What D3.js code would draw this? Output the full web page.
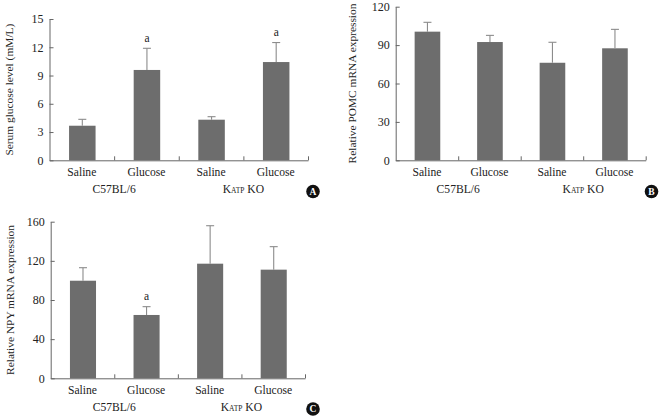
<!DOCTYPE html>
<html><head><meta charset="utf-8">
<script src="https://cdn.jsdelivr.net/npm/d3@7"></script>
<style>body{margin:0;background:#fff}svg{display:block}text{font-family:"Liberation Serif","Times New Roman",serif;fill:#222}</style>
</head><body>
<svg id="c" width="666" height="419"></svg>
<script>
const categories = ["Saline","Glucose","Saline","Glucose"];
const groups = ["C57BL/6","KATP KO"];
const glucoseMean = [3.67, 9.59, 4.31, 10.43];
const glucoseErr  = [0.68, 2.30, 0.32, 2.07];
const glucoseSig  = ["", "a", "", "a"];
const glucoseTicks = [0,3,6,9,12,15];
const pomcMean = [100.5, 92.4, 76.2, 87.5];
const pomcErr  = [7.3, 5.2, 16.0, 14.8];
const pomcSig  = ["", "", "", ""];
const pomcTicks = [0,30,60,90,120];
const npyMean = [99.7, 64.7, 117.1, 111.0];
const npyErr  = [13.3, 8.5, 38.8, 23.5];
const npySig  = ["", "a", "", ""];
const npyTicks = [0,40,80,120,160];

const panels = [
  {label:"A", title:"Serum glucose level (mM/L)", mean:glucoseMean, err:glucoseErr, sig:glucoseSig, ticks:glucoseTicks,
   x0:49.5, x1:308, yT:19, yB:160.3, titleX:13, catY:176, grpY:193, cx:313, cy:191.5},
  {label:"B", title:"Relative POMC mRNA expression", mean:pomcMean, err:pomcErr, sig:pomcSig, ticks:pomcTicks,
   x0:395.7, x1:645.7, yT:6.7, yB:160.3, titleX:355.5, catY:176, grpY:193, cx:651.5, cy:191.5},
  {label:"C", title:"Relative NPY mRNA expression", mean:npyMean, err:npyErr, sig:npySig, ticks:npyTicks,
   x0:50.7, x1:305, yT:221.7, yB:378.3, titleX:14, catY:394, grpY:411, cx:313, cy:409}
];

const svg = d3.select("#c");
const axisColor = "#666";
const barColor = "#6d6d6d";
const errColor = "#8c8c8c";

panels.forEach(p => {
  const g = svg.append("g");
  const x = d3.scaleBand().domain(d3.range(categories.length)).range([p.x0, p.x1]);
  const ymax = d3.max(p.ticks);
  const y = d3.scaleLinear().domain([0, ymax]).range([p.yB, p.yT]);
  const bw = x.bandwidth()*0.41;

  g.selectAll("rect.bar").data(p.mean).join("rect")
    .attr("x",(d,i)=>x(i)+x.bandwidth()/2-bw/2+0.5)
    .attr("y",d=>y(d)).attr("width",bw).attr("height",d=>p.yB-y(d))
    .attr("fill",barColor);
  p.mean.forEach((m,i)=>{
    const cxx = x(i)+x.bandwidth()/2+0.5;
    g.append("line").attr("x1",cxx).attr("x2",cxx).attr("y1",y(m)).attr("y2",y(m+p.err[i]))
      .attr("stroke",errColor).attr("stroke-width",1.1);
    g.append("line").attr("x1",cxx-4).attr("x2",cxx+4).attr("y1",y(m+p.err[i])).attr("y2",y(m+p.err[i]))
      .attr("stroke",errColor).attr("stroke-width",1.1);
    if (p.sig[i]) g.append("text").attr("x",cxx).attr("y",y(m+p.err[i])-6.5).attr("text-anchor","middle")
      .attr("font-size",11.5).text(p.sig[i]);
  });
  const yAxis = d3.axisLeft(y).tickValues(p.ticks).tickSize(-4).tickPadding(6).tickSizeOuter(0);
  const ya = g.append("g").attr("transform",`translate(${p.x0},0)`).call(yAxis);
  ya.select(".domain").attr("stroke",axisColor);
  ya.selectAll(".tick line").attr("stroke",axisColor);
  ya.selectAll(".tick text").attr("font-size",12).attr("font-family","Liberation Serif").attr("fill","#222");
  const xb = d3.scaleLinear().domain([0,categories.length]).range([p.x0,p.x1]);
  const xAxis = d3.axisBottom(xb).tickValues([1,2,3,4]).tickSize(-4).tickFormat("").tickSizeOuter(0);
  const xa = g.append("g").attr("transform",`translate(0,${p.yB})`).call(xAxis);
  xa.select(".domain").attr("stroke",axisColor);
  xa.selectAll(".tick line").attr("stroke",axisColor);
  g.selectAll("text.cat").data(categories).join("text").attr("class","cat")
    .attr("x",(d,i)=>x(i)+x.bandwidth()/2).attr("y",p.catY).attr("text-anchor","middle")
    .attr("font-size",11.6).text(d=>d);
  groups.forEach((gr,k)=>{
    const t = g.append("text").attr("x",x(2*k+1)).attr("y",p.grpY).attr("text-anchor","middle").attr("font-size",11.6);
    if (gr.startsWith("KATP")) {
      t.append("tspan").text("K");
      t.append("tspan").attr("font-size",7.5).text("ATP");
      t.append("tspan").text(" KO");
    } else t.text(gr);
  });
  g.append("text").attr("transform",`translate(${p.titleX},${(p.yT+p.yB)/2}) rotate(-90)`)
    .attr("text-anchor","middle").attr("font-size",11.4).text(p.title);
  g.append("circle").attr("cx",p.cx).attr("cy",p.cy).attr("r",6.8).attr("fill","#111");
  g.append("text").attr("x",p.cx).attr("y",p.cy+3.3).attr("text-anchor","middle")
    .attr("font-family","Liberation Sans, Arial, sans-serif").attr("font-weight","bold")
    .attr("font-size",9.5).style("fill","#fff").text(p.label);
});
</script>
</body></html>
